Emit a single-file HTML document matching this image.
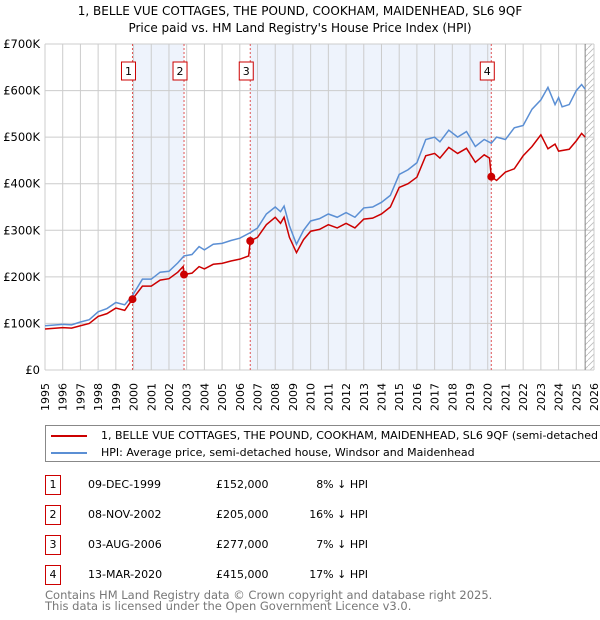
<!DOCTYPE html>
<html><head><meta charset="utf-8"><style>
body{margin:0;background:#fff;font-family:"DejaVu Sans","Liberation Sans",sans-serif;}
#wrap{position:relative;width:600px;height:620px;overflow:hidden;}
.t{position:absolute;font-size:11px;color:#000;white-space:nowrap;}
.box{position:absolute;width:14px;height:18px;border:1px solid #c00;font-size:11px;text-align:center;line-height:18px;}
</style></head><body>
<div id="wrap">
<div class="t" style="left:0;width:600px;text-align:center;top:4px;font-size:12px">1, BELLE VUE COTTAGES, THE POUND, COOKHAM, MAIDENHEAD, SL6 9QF</div>
<div class="t" style="left:0;width:600px;text-align:center;top:21px;font-size:12px">Price paid vs. HM Land Registry's House Price Index (HPI)</div>
<svg id="chart" width="600" height="420" style="position:absolute;left:0;top:0"></svg>
<div style="position:absolute;left:45px;top:425px;width:560px;height:35px;border:1px solid #888;overflow:hidden">
 <div style="position:absolute;left:5px;top:9px;width:36px;height:2px;background:#c00"></div>
 <div class="t" style="left:55px;top:3px">1, BELLE VUE COTTAGES, THE POUND, COOKHAM, MAIDENHEAD, SL6 9QF (semi-detached house)</div>
 <div style="position:absolute;left:5px;top:26px;width:36px;height:2px;background:#5b8fd4"></div>
 <div class="t" style="left:55px;top:20px">HPI: Average price, semi-detached house, Windsor and Maidenhead</div>
</div>
<div id="table"></div>
<div class="t" style="left:45px;top:590px;color:#777;line-height:11px;font-size:11.5px">Contains HM Land Registry data © Crown copyright and database right 2025.<br>This data is licensed under the Open Government Licence v3.0.</div>
</div>
<script>
const hpiYears=[1995,1996,1996.5,1997,1997.5,1998,1998.5,1999,1999.5,1999.94,2000.5,2001,2001.5,2002,2002.5,2002.85,2003.3,2003.7,2004,2004.5,2005,2005.5,2006,2006.59,2007,2007.5,2008,2008.3,2008.5,2008.8,2009.2,2009.6,2010,2010.5,2011,2011.5,2012,2012.5,2013,2013.5,2014,2014.5,2015,2015.5,2016,2016.5,2017,2017.3,2017.8,2018.3,2018.8,2019.3,2019.8,2020.2,2020.5,2021,2021.5,2022,2022.5,2023,2023.4,2023.8,2024,2024.2,2024.6,2025,2025.3,2025.5];
const hpiValues=[95,98,97,103,108,125,132,145,140,160,195,195,210,212,230,245,248,265,258,270,272,278,283,295,305,335,350,340,352,310,270,300,320,325,335,328,338,328,348,350,360,375,420,430,445,495,500,490,515,500,512,480,495,487,500,495,520,525,560,580,607,570,585,565,570,600,613,603];
const redYears=[1995,1996,1996.5,1997,1997.5,1998,1998.5,1999,1999.5,1999.94,2000.5,2001,2001.5,2002,2002.5,2002.8,2002.85,2003.3,2003.7,2004,2004.5,2005,2005.5,2006,2006.5,2006.59,2007,2007.5,2008,2008.3,2008.5,2008.8,2009.2,2009.6,2010,2010.5,2011,2011.5,2012,2012.5,2013,2013.5,2014,2014.5,2015,2015.5,2016,2016.5,2017,2017.3,2017.8,2018.3,2018.8,2019.3,2019.8,2020.1,2020.2,2020.5,2021,2021.5,2022,2022.5,2023,2023.4,2023.8,2024,2024.6,2025,2025.3,2025.5];
const redValues=[88,91,90,95,100,115,121,133,128,152,180,180,193,196,210,222,205,208,222,217,227,229,234,238,245,277,285,312,328,315,328,285,252,280,298,302,312,305,315,305,324,326,335,350,392,400,414,460,465,455,478,465,476,446,462,455,415,407,425,432,460,480,505,475,485,470,474,492,508,500];
const saleYears=[1999.94,2002.85,2006.59,2020.2];
const salePrices=[152,205,277,415];
const saleLabels=["1","2","3","4"];
const saleDates=["09-DEC-1999","08-NOV-2002","03-AUG-2006","13-MAR-2020"];
const salePriceText=["£152,000","£205,000","£277,000","£415,000"];
const saleHpiText=["8% ↓ HPI","16% ↓ HPI","7% ↓ HPI","17% ↓ HPI"];
const yTicks=[0,100,200,300,400,500,600,700];
const yTickLabels=["£0","£100K","£200K","£300K","£400K","£500K","£600K","£700K"];
const xTicks=[];for(let y=1995;y<=2026;y++)xTicks.push(y);

const X0=45,X1=594,Y0=370,Y1=44;
const FF='DejaVu Sans,Liberation Sans,sans-serif';
const x=v=>X0+(v-1995)/(2026-1995)*(X1-X0);
const y=v=>Y0-(v/700)*(Y0-Y1);
const svg=document.getElementById('chart');
const NS='http://www.w3.org/2000/svg';
function mk(t,a){const e=document.createElementNS(NS,t);for(const k in a)e.setAttribute(k,a[k]);svg.appendChild(e);return e;}
let e;
e=mk('rect',{x:X0,y:Y1,width:X1-X0,height:Y0-Y1,fill:'#fff'});


[[0,1],[2,3]].forEach(p=>{e=mk('rect',{x:x(saleYears[p[0]]),y:Y1,width:x(saleYears[p[1]])-x(saleYears[p[0]]),height:Y0-Y1,fill:'#eef3fc'});

});
const defs=mk('defs',{});
defs.innerHTML='<pattern id="h" width="6" height="6" patternUnits="userSpaceOnUse"><path d="M0,6 L6,0" stroke="#bbb" stroke-width="0.8"/></pattern>';
e=mk('rect',{x:x(2025.5),y:Y1,width:X1-x(2025.5),height:Y0-Y1,fill:'url(#h)'});


xTicks.forEach((t,i)=>{e=mk('line',{x1:x(t),x2:x(t),y1:Y1,y2:Y0,stroke:'#ccc','stroke-width':1});


e=mk('text',{x:0,y:0,'font-size':11,'text-anchor':'end','font-family':FF,transform:'translate('+(x(t)+4)+',383) rotate(-90)'});e.textContent=t;

});
yTicks.forEach((t,i)=>{e=mk('line',{x1:X0,x2:X1,y1:y(t),y2:y(t),stroke:'#ccc','stroke-width':1});


e=mk('text',{x:40,y:y(t)+4,'font-size':11.5,'text-anchor':'end','font-family':FF});e.textContent=yTickLabels[i];

});
e=mk('line',{x1:x(2025.5),x2:x(2025.5),y1:Y1,y2:Y0,stroke:'#888','stroke-width':1});


saleYears.forEach((s,i)=>{e=mk('line',{x1:x(s),x2:x(s),y1:Y1,y2:Y0,stroke:'#e05555','stroke-width':1,'stroke-dasharray':'2,2'});

});
e=mk('polyline',{points:hpiYears.map((t,i)=>x(t)+','+y(hpiValues[i])).join(' '),fill:'none',stroke:'#5b8fd4','stroke-width':1.5});


e=mk('polyline',{points:redYears.map((t,i)=>x(t)+','+y(redValues[i])).join(' '),fill:'none',stroke:'#c00','stroke-width':1.5});


saleYears.forEach((s,i)=>{e=mk('circle',{cx:x(s),cy:y(salePrices[i]),r:4,fill:'#c00'});


e=mk('rect',{x:x(s)-11,y:62,width:14,height:18,fill:'#fff',stroke:'#c00'});


e=mk('text',{x:x(s)-4,y:75,'font-size':11,'text-anchor':'middle','font-family':FF});e.textContent=saleLabels[i];

});
const tb=document.getElementById('table');
saleLabels.forEach((l,i)=>{const top=475+i*30;
let d=document.createElement('div');d.className='box';d.style.left='45px';d.style.top=top+'px';d.textContent=l;

tb.appendChild(d);
[[saleDates[i],88,'table-date'],[salePriceText[i],216,'table-price'],[saleHpiText[i],368,'table-hpi-diff']].forEach((c,j)=>{
let s=document.createElement('div');s.className='t';s.style.top=(top+3)+'px';
if(j<2)s.style.left=c[1]+'px';else{s.style.left='288px';s.style.width='80px';s.style.textAlign='right';}
s.textContent=c[0];

tb.appendChild(s);});});
</script>
</body></html>
